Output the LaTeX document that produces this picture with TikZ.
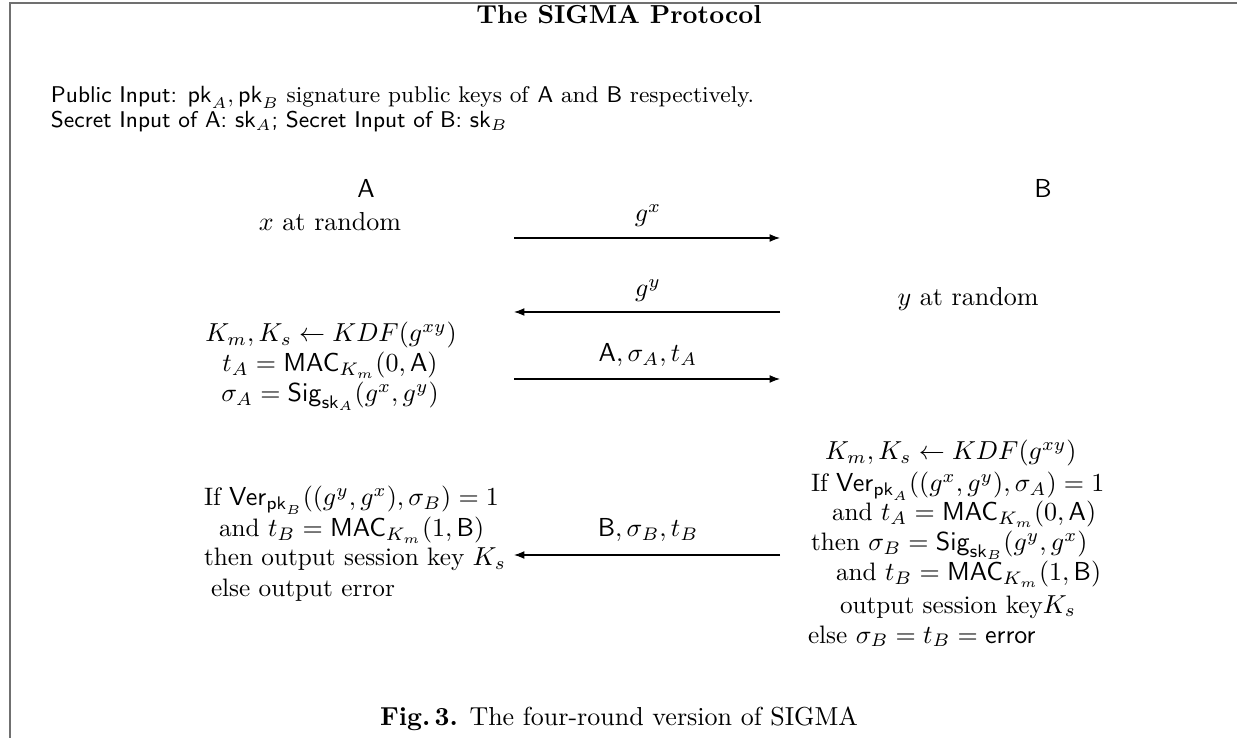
\documentclass[tikz,border=0pt]{standalone}
\usetikzlibrary{arrows.meta}
\definecolor{framegray}{RGB}{112,112,112}
\begin{document}
\begin{tikzpicture}[x=0.3846pt,y=-0.3846pt,
  txt/.style={inner sep=0pt,outer sep=0pt,anchor=base},
  ltxt/.style={inner sep=0pt,outer sep=0pt,anchor=base west},
  blk/.style={font=\fontsize{9.7}{11.6}\selectfont},
  hdr/.style={ltxt,font=\fontsize{8.75}{10}\selectfont},
  msg/.style={-{Latex[length=4pt,width=3pt]},line width=0.4pt},
  frameline/.style={draw=framegray,line width=0.8pt}]
\useasboundingbox (0,0) rectangle (1237,738);
\draw[frameline] (10,740) -- (10,3) -- (1240,3);
% title
\node[txt,font=\bfseries] (title) at (619,24) {The SIGMA Protocol};
\node[hdr] (pub) at (51,103) {\textsf{Public Input:} $\mathsf{pk}_A,\mathsf{pk}_B$ signature public keys of \textsf{A} and \textsf{B} respectively.};
\node[hdr] (sec) at (51,128) {\textsf{Secret Input of A:} $\mathsf{sk}_A$\textsf{; Secret Input of B:} $\mathsf{sk}_B$};
% parties
\node[txt,font=\sffamily] (pa) at (366,198) {A};
\node[txt,font=\sffamily] (pb) at (1043,198) {B};
% round 1
\node[txt] (xr) at (330,231) {$x$ at random};
\coordinate (m1s) at (514,238);
\coordinate (m1e) at (780,238);
\draw[msg] (m1s) -- (m1e);
\node[txt] (l1) at (648,222) {$g^x$};
% round 2
\node[txt] (yr) at (968,306) {$y$ at random};
\coordinate (m2s) at (780,312);
\coordinate (m2e) at (514,312);
\draw[msg] (m2s) -- (m2e);
\node[txt] (l2) at (648,297) {$g^y$};
% round 3
\node[txt,blk] (a1) at (331,342) {$K_m,K_s\leftarrow KDF(g^{xy})$};
\node[txt,blk] (a2) at (330,372) {$t_A=\mathsf{MAC}_{K_m}(0,\mathsf{A})$};
\node[txt,blk] (a3) at (330,402) {$\sigma_A=\mathsf{Sig}_{\mathsf{sk}_A}(g^x,g^y)$};
\coordinate (m3s) at (514,379);
\coordinate (m3e) at (780,379);
\draw[msg] (m3s) -- (m3e);
\node[txt] (l3) at (648,362) {$\mathsf{A},\sigma_A,t_A$};
% B block
\node[ltxt,blk] (b1) at (825,460) {$K_m,K_s\leftarrow KDF(g^{xy})$};
\node[ltxt,blk] (b2) at (811,492) {If $\mathsf{Ver}_{\mathsf{pk}_A}((g^x,g^y),\sigma_A)=1$};
\node[ltxt,blk] (b3) at (832,521) {and $t_A=\mathsf{MAC}_{K_m}(0,\mathsf{A})$};
\node[ltxt,blk] (b4) at (811,551) {then $\sigma_B=\mathsf{Sig}_{\mathsf{sk}_B}(g^y,g^x)$};
\node[ltxt,blk] (b5) at (836,581) {and $t_B=\mathsf{MAC}_{K_m}(1,\mathsf{B})$};
\node[ltxt,blk] (b6) at (840,613) {output session key$K_s$};
\node[ltxt,blk] (b7) at (808,643) {else $\sigma_B=t_B=\mathsf{error}$};
% round 4
\coordinate (m4s) at (780,555);
\coordinate (m4e) at (514,555);
\draw[msg] (m4s) -- (m4e);
\node[txt] (l4) at (648,537) {$\mathsf{B},\sigma_B,t_B$};
\node[ltxt,blk] (c1) at (204,506) {If $\mathsf{Ver}_{\mathsf{pk}_B}((g^y,g^x),\sigma_B)=1$};
\node[ltxt,blk] (c2) at (219,537) {and $t_B=\mathsf{MAC}_{K_m}(1,\mathsf{B})$};
\node[ltxt,blk] (c3) at (204,566) {then output session key $K_s$};
\node[ltxt,blk] (c4) at (211,596) {else output error};
% caption
\node[txt] (cap) at (619,725) {\textbf{Fig.\,3.} The four-round version of SIGMA};
\end{tikzpicture}
\end{document}
